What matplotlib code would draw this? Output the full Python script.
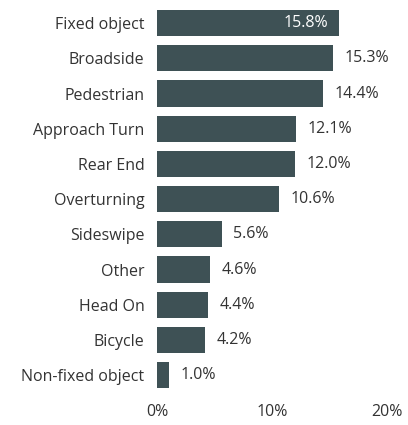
import matplotlib.pyplot as plt
from matplotlib.ticker import FuncFormatter

plt.rcParams['font.family'] = ['Open Sans', 'DejaVu Sans']

categories = ['Fixed object', 'Broadside', 'Pedestrian', 'Approach Turn', 'Rear End',
              'Overturning', 'Sideswipe', 'Other', 'Head On', 'Bicycle', 'Non-fixed object']
values = [15.8, 15.3, 14.4, 12.1, 12.0, 10.6, 5.6, 4.6, 4.4, 4.2, 1.0]
xticks = [0, 10, 20]

bar_color = '#3e5155'
text_color = '#333333'
fs = 11.5

fig = plt.figure(figsize=(4.08, 4.25), dpi=100)
ax = fig.add_axes([0.385, 0.076, 0.564, 0.911])

ypos = list(range(len(categories)))
ax.barh(ypos, values, height=0.74, color=bar_color)
ax.set_ylim(len(categories) - 0.5, -0.5)
ax.set_xlim(0, 20)

for y, v in zip(ypos, values):
    if y == 0:
        ax.text(v - 0.9, y, f'{v:.1f}%', ha='right', va='center',
                color='white', fontsize=fs)
    else:
        ax.text(v + 1.0, y, f'{v:.1f}%', ha='left', va='center',
                color=text_color, fontsize=fs)

ax.set_yticks(ypos)
ax.set_yticklabels(categories, fontsize=fs, color=text_color)
ax.set_xticks(xticks)
ax.xaxis.set_major_formatter(FuncFormatter(lambda x, p: f'{x:.0f}%'))
ax.tick_params(axis='x', labelsize=fs, labelcolor=text_color, length=0, pad=8)
ax.tick_params(axis='y', length=0, pad=9)

for s in ax.spines.values():
    s.set_visible(False)

fig.savefig('out.png', dpi=100)
